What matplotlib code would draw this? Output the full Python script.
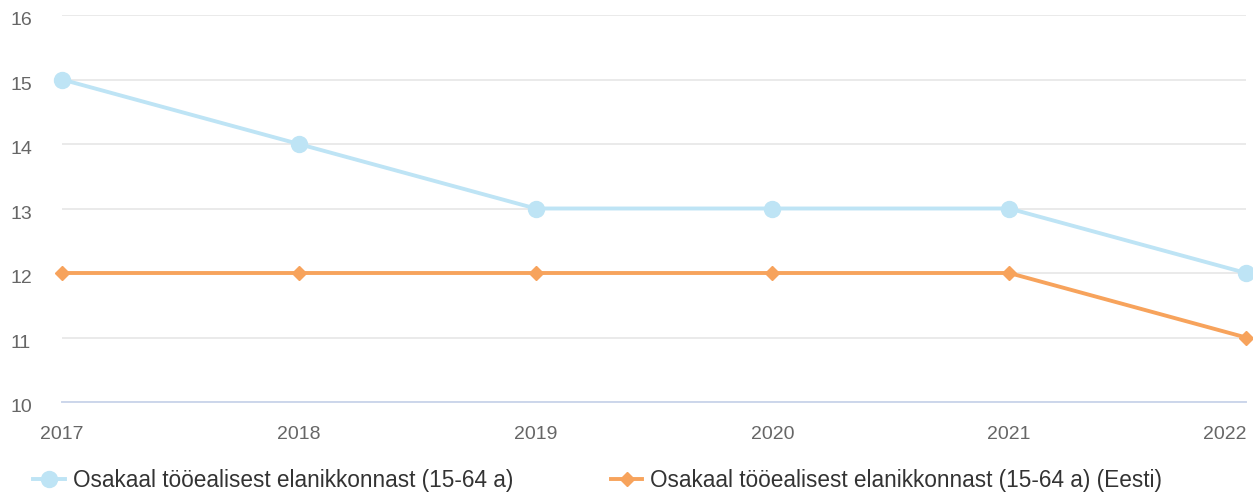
import matplotlib
matplotlib.use("Agg")
import matplotlib.pyplot as plt
import matplotlib.transforms as mtransforms
from matplotlib.lines import Line2D

years = [2017, 2018, 2019, 2020, 2021, 2022]
share_local = [15, 14, 13, 13, 13, 12]
share_estonia = [12, 12, 12, 12, 12, 11]
label_local = "Osakaal tööealisest elanikkonnast (15-64 a)"
label_estonia = "Osakaal tööealisest elanikkonnast (15-64 a) (Eesti)"
yticks = [10, 11, 12, 13, 14, 15, 16]

plt.rcParams['font.family'] = ['Liberation Sans', 'DejaVu Sans']

blue = '#bee4f5'
orange = '#f7a35c'

W, H = 1253, 493
fig = plt.figure(figsize=(W / 100, H / 100), dpi=100)
ax = fig.add_axes([62 / W, 1 - 402 / H, (1246 - 62) / W, (402 - 15) / H])

ax.plot(years, share_local, color=blue, lw=2.8, marker='o', ms=11.5, clip_on=False, zorder=3)
ax.plot(years, share_estonia, color=orange, lw=2.8, marker='D', ms=7.5, clip_on=False, zorder=4)

ax.set_xlim(2017, 2022)
ax.set_ylim(10, 16)
ax.set_yticks(yticks)
ax.set_xticks(years)
ax.set_xticklabels([str(y) for y in years])
ax.grid(axis='y', color='#e6e6e6', lw=1.2)
ax.set_axisbelow(True)
for s in ['left', 'right', 'top']:
    ax.spines[s].set_visible(False)
ax.spines['bottom'].set_color('#ccd6eb')
ax.spines['bottom'].set_linewidth(1.4)
ax.tick_params(axis='both', length=0, labelsize=14, colors='#666666')
ax.tick_params(axis='x', pad=17)
ax.tick_params(axis='y', pad=37.4)

down = mtransforms.ScaledTranslation(0, -4 / 100, fig.dpi_scale_trans)
for lab in ax.get_yticklabels():
    lab.set_horizontalalignment('left')
    lab.set_transform(lab.get_transform() + down)
ax.get_xticklabels()[-1].set_horizontalalignment('right')

handles = [
    Line2D([], [], color=blue, lw=2.8, marker='o', ms=11.5),
    Line2D([], [], color=orange, lw=2.8, marker='D', ms=7.5),
]
fs = 16.3
fig.legend(handles, [label_local, label_estonia], loc='center left',
           bbox_to_anchor=(33 / W, 1 - 480 / H), ncol=2, frameon=False, fontsize=fs,
           handlelength=1.41, handletextpad=0.35, columnspacing=4.3,
           borderpad=0, borderaxespad=0, labelcolor='#333333')

fig.savefig('out.png', dpi=100)
